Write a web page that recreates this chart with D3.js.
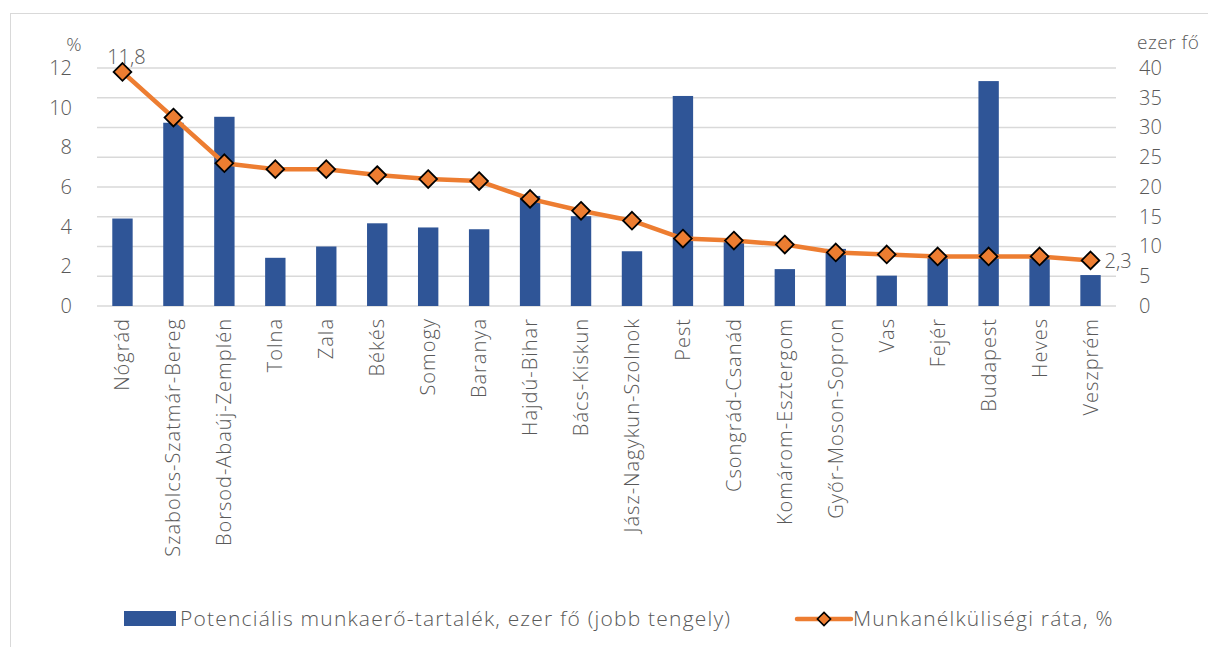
<!DOCTYPE html>
<html>
<head>
<meta charset="utf-8">
<script src="https://cdn.jsdelivr.net/npm/d3@7"></script>
<style>
  body { margin: 0; background: #fff; }
  svg text { font-family: "Open Sans", sans-serif; font-weight: 300; fill: #595959; }
</style>
</head>
<body>
<div id="chart"></div>
<script>
// categories (megyék)
const counties = ["Nógrád", "Szabolcs-Szatmár-Bereg", "Borsod-Abaúj-Zemplén", "Tolna", "Zala",
    "Békés", "Somogy", "Baranya", "Hajdú-Bihar", "Bács-Kiskun", "Jász-Nagykun-Szolnok", "Pest",
    "Csongrád-Csanád", "Komárom-Esztergom", "Győr-Moson-Sopron", "Vas", "Fejér", "Budapest",
    "Heves", "Veszprém"];

// potenciális munkaerő-tartalék, ezer fő (right axis)
const reserve = [14.7, 30.8, 31.8, 8.1, 10.0, 13.9, 13.2, 12.9, 18.5, 15.1, 9.2, 35.3,
    10.9, 6.2, 9.6, 5.1, 8.3, 37.8, 8.1, 5.2];

// munkanélküliségi ráta, % (left axis)
const unemployment = [11.8, 9.5, 7.2, 6.9, 6.9, 6.6, 6.4, 6.3, 5.4, 4.8, 4.3, 3.4,
    3.3, 3.1, 2.7, 2.6, 2.5, 2.5, 2.5, 2.3];

const leftTicks = [0, 2, 4, 6, 8, 10, 12];
const rightTicks = [0, 5, 10, 15, 20, 25, 30, 35, 40];

const W = 1208, H = 647;
const plot = { left: 97, right: 1116, top: 68, bottom: 306 };

const svg = d3.select("#chart").append("svg")
    .attr("width", W)
    .attr("height", H);

// frame (only top and left edges visible)
svg.append("rect")
    .attr("x", 10.5).attr("y", 13.5)
    .attr("width", W + 20).attr("height", H + 20)
    .attr("fill", "none")
    .attr("stroke", "#d9d9d9");

const x = d3.scaleBand()
    .domain(counties)
    .range([plot.left, plot.right])
    .paddingInner(0.6)
    .paddingOuter(0.3);

const yLeft = d3.scaleLinear().domain([0, 12]).range([plot.bottom, plot.top]);
const yRight = d3.scaleLinear().domain([0, 40]).range([plot.bottom, plot.top]);

// gridlines follow the right axis
svg.append("g")
    .selectAll("line")
    .data(rightTicks)
    .join("line")
    .attr("x1", plot.left)
    .attr("x2", plot.right)
    .attr("y1", d => yRight(d))
    .attr("y2", d => yRight(d))
    .attr("stroke", "#d9d9d9")
    .attr("stroke-width", 1.5);

// bars
svg.append("g")
    .selectAll("rect")
    .data(counties)
    .join("rect")
    .attr("x", d => x(d))
    .attr("y", (d, i) => yRight(reserve[i]))
    .attr("width", x.bandwidth())
    .attr("height", (d, i) => yRight(0) - yRight(reserve[i]))
    .attr("fill", "#2f5597");

// left axis
const leftAxis = svg.append("g")
    .attr("transform", `translate(${plot.left - 25},0)`)
    .call(d3.axisLeft(yLeft).tickValues(leftTicks).tickSize(0).tickPadding(0));
leftAxis.select(".domain").remove();
leftAxis.selectAll("text").style("font-size", "20px").style("fill", "#595959").attr("font-family", null);

svg.append("text")
    .attr("x", 74).attr("y", 51)
    .attr("text-anchor", "middle")
    .style("font-size", "19px")
    .text("%");

// right axis
const rightAxis = svg.append("g")
    .attr("transform", `translate(${plot.right + 23},0)`)
    .call(d3.axisRight(yRight).tickValues(rightTicks).tickSize(0).tickPadding(0));
rightAxis.select(".domain").remove();
rightAxis.selectAll("text").style("font-size", "20px").style("fill", "#595959").attr("font-family", null);

svg.append("text")
    .attr("x", 1137).attr("y", 49)
    .style("font-size", "19px")
    .style("letter-spacing", "0.5px")
    .text("ezer fő");

// category labels
svg.append("g")
    .selectAll("text")
    .data(counties)
    .join("text")
    .attr("transform", d => `translate(${x(d) + x.bandwidth() / 2 + 7},318) rotate(-90)`)
    .attr("text-anchor", "end")
    .style("font-size", "20px")
    .style("letter-spacing", "1px")
    .text(d => d);

// unemployment line
const line = d3.line()
    .x((d, i) => x(counties[i]) + x.bandwidth() / 2)
    .y(d => yLeft(d));

svg.append("path")
    .datum(unemployment)
    .attr("fill", "none")
    .attr("stroke", "#ed7d31")
    .attr("stroke-width", 4.5)
    .attr("stroke-linejoin", "round")
    .attr("d", line);

const diamond = d3.symbol().type(d3.symbolDiamond2).size(200);

svg.append("g")
    .selectAll("path")
    .data(unemployment)
    .join("path")
    .attr("transform", (d, i) => `translate(${x(counties[i]) + x.bandwidth() / 2},${yLeft(d)})`)
    .attr("d", diamond)
    .attr("fill", "#ed7d31")
    .attr("stroke", "#000")
    .attr("stroke-width", 1.8);

// first and last value labels
const fmt = v => d3.format(".1f")(v).replace(".", ",");
const last = unemployment.length - 1;

svg.append("text")
    .attr("x", x(counties[0]) + x.bandwidth() / 2 + 4)
    .attr("y", yLeft(unemployment[0]) - 8)
    .attr("text-anchor", "middle")
    .style("font-size", "20px")
    .text(fmt(unemployment[0]));

svg.append("text")
    .attr("x", x(counties[last]) + x.bandwidth() / 2 + 14)
    .attr("y", yLeft(unemployment[last]) + 8)
    .style("font-size", "20px")
    .text(fmt(unemployment[last]));

// legend
const legend = svg.append("g");

legend.append("rect")
    .attr("x", 124).attr("y", 611)
    .attr("width", 52).attr("height", 15)
    .attr("fill", "#2f5597");

legend.append("text")
    .attr("x", 180).attr("y", 626)
    .style("font-size", "21px")
    .style("letter-spacing", "1.2px")
    .text("Potenciális munkaerő-tartalék, ezer fő (jobb tengely)");

legend.append("line")
    .attr("x1", 797).attr("x2", 851)
    .attr("y1", 619).attr("y2", 619)
    .attr("stroke", "#ed7d31")
    .attr("stroke-width", 4.5)
    .attr("stroke-linecap", "round");

legend.append("path")
    .attr("transform", "translate(824,619)")
    .attr("d", d3.symbol().type(d3.symbolDiamond2).size(110))
    .attr("fill", "#ed7d31")
    .attr("stroke", "#000")
    .attr("stroke-width", 1.6);

legend.append("text")
    .attr("x", 853).attr("y", 626)
    .style("font-size", "21px")
    .style("letter-spacing", "1.2px")
    .text("Munkanélküliségi ráta, %");
</script>
</body>
</html>
